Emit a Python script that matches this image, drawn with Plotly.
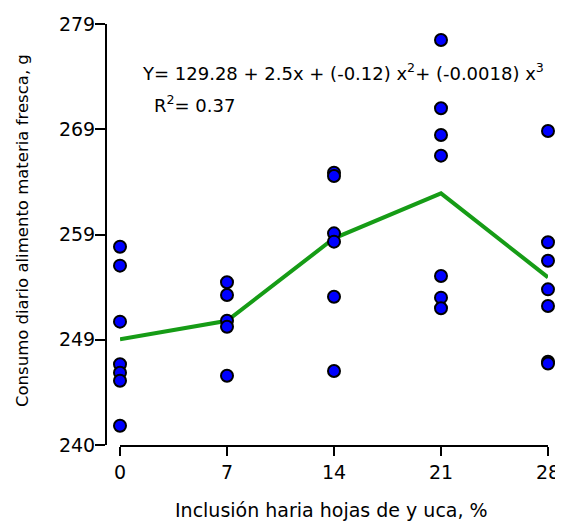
import plotly.graph_objects as go

x_levels = [0, 7, 14, 21, 28]
obs_0 = [257.84, 256.04, 250.72, 246.67, 245.87, 245.11, 240.83]
obs_7 = [254.46, 253.25, 250.81, 250.24, 245.58]
obs_14 = [264.87, 264.56, 259.11, 258.32, 253.09, 246.03]
obs_21 = [277.48, 270.99, 268.45, 266.49, 255.06, 253.0, 251.99]
obs_28 = [268.83, 258.26, 256.51, 253.79, 252.21, 246.91, 246.75]
means = [249.04, 250.8, 258.64, 262.91, 254.93]
y_tickvals = [239, 249, 259, 269, 279]
y_ticktext = ["240", "249", "259", "269", "279"]

groups = [obs_0, obs_7, obs_14, obs_21, obs_28]
px, py = [], []
for xv, g in zip(x_levels, groups):
    px += [xv] * len(g)
    py += g

font = "DejaVu Sans, Arial, sans-serif"
fig = go.Figure()
fig.add_trace(go.Scatter(x=x_levels, y=means, mode="lines",
                         line=dict(color="#169C16", width=4), cliponaxis=False,
                         showlegend=False))
fig.add_trace(go.Scatter(x=px, y=py, mode="markers",
                         marker=dict(color="#0000FF", size=12,
                                     line=dict(color="black", width=2)),
                         cliponaxis=False, showlegend=False))

OFF = 8  # page body margin
W, H = 563 - OFF, 522 - OFF
L, T = 100 - OFF, 24 - OFF
R = W - (548 - OFF)
B = H - (445 - OFF)
pw = W - L - R
ph = H - T - B


def xp(px_):
    return (px_ - OFF - L) / pw


def yp(py_):
    return 1 - (py_ - OFF - T) / ph


fig.update_layout(
    width=W, height=H,
    margin=dict(l=L, r=R, t=T, b=B),
    plot_bgcolor="white", paper_bgcolor="white",
    font=dict(family=font, color="black"),
    xaxis=dict(domain=[20 / pw, 1], range=[0, 28], tickvals=x_levels,
               automargin=False,
               showline=True, linecolor="black", linewidth=2,
               ticks="outside", ticklen=9, tickwidth=2, tickcolor="black",
               showgrid=False, zeroline=False,
               tickfont=dict(size=19, family=font)),
    yaxis=dict(range=[239, 279], tickvals=y_tickvals, ticktext=y_ticktext,
               anchor="free", position=6 / pw, automargin=False,
               showline=True, linecolor="black", linewidth=2,
               ticks="outside", ticklen=10, tickwidth=2, tickcolor="black",
               ticklabelstandoff=-4,
               showgrid=False, zeroline=False,
               tickfont=dict(size=19, family=font)),
    annotations=[
        dict(text="Y= 129.28 + 2.5x + (-0.12) x<sup>2</sup>+ (-0.0018) x<sup>3</sup>",
             xref="paper", yref="paper", x=xp(140), y=yp(72),
             xanchor="left", yanchor="middle", showarrow=False,
             font=dict(size=18, family=font)),
        dict(text="R<sup>2</sup>= 0.37",
             xref="paper", yref="paper", x=xp(152), y=yp(104),
             xanchor="left", yanchor="middle", showarrow=False,
             font=dict(size=18, family=font)),
        dict(text="Inclusión haria hojas de y uca, %",
             xref="paper", yref="paper", x=xp(331), y=yp(510),
             xanchor="center", yanchor="middle", showarrow=False,
             font=dict(size=19, family=font)),
        dict(text="Consumo diario alimento materia fresca, g",
             xref="paper", yref="paper", x=xp(22), y=yp(231),
             xanchor="center", yanchor="middle", showarrow=False, textangle=-90,
             font=dict(size=16.5, family=font)),
    ],
)
fig.write_html("out.html")
